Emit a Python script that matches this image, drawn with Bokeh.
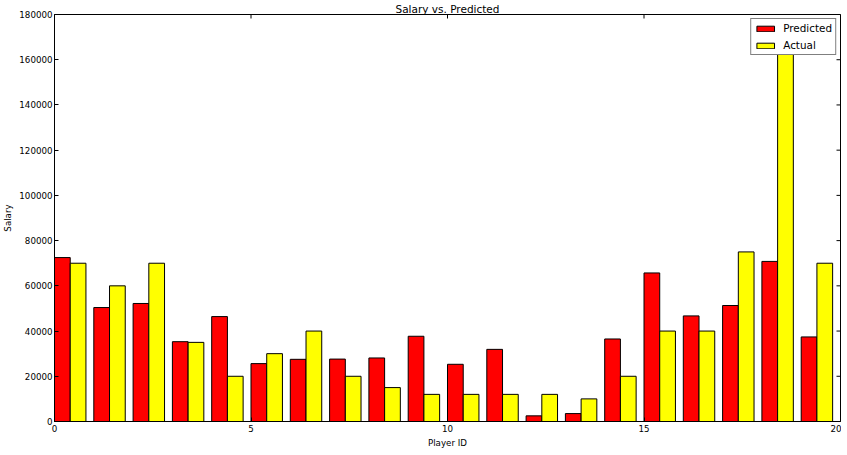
import math
from bokeh.plotting import figure
from bokeh.models import FixedTicker, Range1d, BasicTickFormatter, ColumnDataSource
from bokeh.embed import file_html
from bokeh.resources import INLINE

player_ids = list(range(20))
predicted = [72500, 50400, 52200, 35300, 46400, 25600, 27500, 27600, 28100, 37700,
             25300, 31900, 2500, 3500, 36500, 65700, 46700, 51300, 70800, 37400]
actual = [70000, 60000, 70000, 35000, 20000, 30000, 40000, 20000, 15000, 12000,
          12000, 12000, 12000, 10000, 20000, 40000, 40000, 75000, 170000, 70000]
x_ticks = [0, 5, 10, 15, 20]
y_ticks = [0, 20000, 40000, 60000, 80000, 100000, 120000, 140000, 160000, 180000]

FONT = "DejaVu Sans"
BAR_W = 0.4
X_MIN, X_MAX = 0, 20
Y_MIN, Y_MAX = 0, 180000

src = ColumnDataSource(dict(
    pid=player_ids,
    xp=[i + BAR_W / 2 for i in player_ids],
    xa=[i + BAR_W * 1.5 for i in player_ids],
    predicted=predicted,
    actual=actual,
))

p = figure(width=841, height=450, output_backend="svg", toolbar_location=None,
           x_range=Range1d(X_MIN, X_MAX), y_range=Range1d(Y_MIN, Y_MAX),
           min_border_left=53, min_border_right=1, min_border_top=14, min_border_bottom=26,
           title="Salary vs. Predicted")
p.background_fill_color = "white"
p.border_fill_color = "white"
p.outline_line_color = "black"
p.outline_line_width = 1
p.grid.visible = False

p.title.align = "center"
p.title.text_font = FONT
p.title.text_font_size = "10.5px"
p.title.text_font_style = "normal"
p.title.text_color = "black"
p.title.standoff = 0
p.title.offset = 0

p.vbar(x="xp", top="predicted", width=BAR_W, bottom=0, source=src,
       fill_color="#ff0000", line_color="black", line_width=1, legend_label="Predicted")
p.vbar(x="xa", top="actual", width=BAR_W, bottom=0, source=src,
       fill_color="#ffff00", line_color="black", line_width=1, legend_label="Actual")

# inward ticks on the top and right edges (matplotlib classic style)
p.scatter(x=[X_MAX] * len(y_ticks), y=y_ticks, marker="dash", size=8,
          line_color="black", line_width=1)
p.scatter(x=x_ticks, y=[Y_MAX] * len(x_ticks), marker="dash", size=8, angle=math.pi / 2,
          line_color="black", line_width=1)

for ax, ticks in ((p.xaxis[0], x_ticks), (p.yaxis[0], y_ticks)):
    ax.ticker = FixedTicker(ticks=ticks)
    ax.minor_tick_line_color = None
    ax.major_tick_in = 4
    ax.major_tick_out = 0
    ax.axis_line_color = "black"
    ax.major_tick_line_color = "black"
    ax.major_label_text_font = FONT
    ax.major_label_text_color = "black"
    ax.major_label_text_font_size = "8.7px"
    ax.major_label_standoff = 3
    ax.axis_label_text_font = FONT
    ax.axis_label_text_font_size = "8.7px"
    ax.axis_label_text_font_style = "normal"
    ax.axis_label_text_color = "black"
    ax.axis_label_standoff = 3

p.yaxis[0].formatter = BasicTickFormatter(use_scientific=False)
p.yaxis[0].major_label_standoff = 2
p.xaxis.axis_label = "Player ID"
p.yaxis.axis_label = "Salary"

lg = p.legend[0]
lg.location = "top_right"
lg.label_text_font = FONT
lg.label_text_font_size = "10.4px"
lg.label_text_color = "black"
lg.glyph_width = 22
lg.glyph_height = 7
lg.label_height = 11
lg.spacing = 5
lg.padding = 3
lg.margin = 4
lg.label_standoff = 7
lg.border_line_color = "black"
lg.border_line_width = 1
lg.background_fill_alpha = 1

open("out.html", "w").write(file_html(p, INLINE))
